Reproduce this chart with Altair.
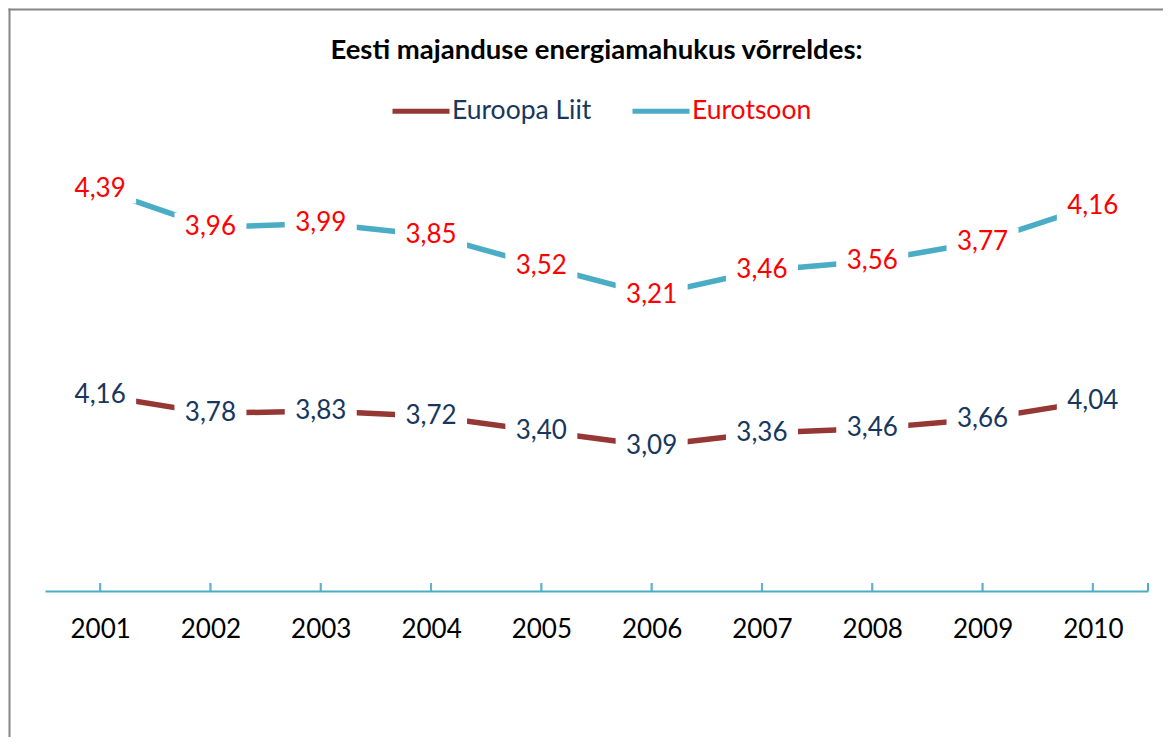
import altair as alt
import pandas as pd

years = [2001, 2002, 2003, 2004, 2005, 2006, 2007, 2008, 2009, 2010]
euroopa_liit = [4.16, 3.78, 3.83, 3.72, 3.40, 3.09, 3.36, 3.46, 3.66, 4.04]
eurotsoon = [4.39, 3.96, 3.99, 3.85, 3.52, 3.21, 3.46, 3.56, 3.77, 4.16]
series_names = ["Euroopa Liit", "Eurotsoon"]
title_text = "Eesti majanduse energiamahukus võrreldes:"

rows = []
for i, yr in enumerate(years):
    rows.append({"aasta": str(yr), "seeria": series_names[0], "jrk": 0, "vaartus": euroopa_liit[i]})
    rows.append({"aasta": str(yr), "seeria": series_names[1], "jrk": 1, "vaartus": eurotsoon[i]})
df = pd.DataFrame(rows)

W, H = 1103, 470
PAD_L, PAD_T, PAD_R, PAD_B = 37, 113, 15, 146
AXIS_COLOR = "#4BACC6"
FONT = "Lato"
FS = 26

base = alt.Chart(df).transform_stack(
    stack="vaartus", groupby=["aasta"], as_=["y0", "y1"], sort=[alt.SortField("jrk")]
).transform_calculate(
    silt="replace(format(datum.vaartus, '.2f'), '.', ',')"
)

x_enc = alt.X(
    "aasta:O",
    scale=alt.Scale(type="point", padding=0.5),
    axis=alt.Axis(
        title=None, labelAngle=0, domainColor=AXIS_COLOR, domainWidth=2, ticks=False,
        labelFont=FONT, labelFontSize=FS, labelColor="black", labelPadding=25,
    ),
)
y_enc = alt.Y("y1:Q", scale=alt.Scale(domain=[0, 10]), axis=None)

lines = base.mark_line(strokeWidth=5.5, strokeCap="round", strokeJoin="round").encode(
    x=x_enc,
    y=y_enc,
    color=alt.Color(
        "seeria:N",
        scale=alt.Scale(domain=series_names, range=["#953735", "#4BACC6"]),
        legend=alt.Legend(
            title=None, orient="none", legendX=345, legendY=-41, direction="horizontal",
            symbolType="stroke", symbolSize=3249, symbolStrokeWidth=5,
            labelFont=FONT, labelFontSize=26.5, labelOffset=0, columnPadding=30, labelLimit=0,
            labelColor={"expr": "datum.label == 'Euroopa Liit' ? '#17375E' : '#FF0000'"},
        ),
    ),
)

boxes = base.mark_point(
    shape="M-1,-0.4H1V0.4H-1Z", filled=True, color="white", opacity=1, size=5184, strokeWidth=0
).encode(x=x_enc, y=y_enc)

labels = base.mark_text(font=FONT, fontSize=FS, baseline="middle", align="center").encode(
    x=x_enc,
    y=y_enc,
    text="silt:N",
    color=alt.condition("datum.seeria == 'Euroopa Liit'", alt.value("#17375E"), alt.value("#FF0000")),
)

ticks = base.mark_tick(color=AXIS_COLOR, thickness=2, size=8, orient="vertical").encode(
    x=x_enc, y=alt.value(H - 4)
)

one = alt.Chart(pd.DataFrame({"k": [0]}))
end_tick = one.mark_rule(color=AXIS_COLOR, strokeWidth=2).encode(
    x=alt.value(W), y=alt.value(H - 8), y2=alt.value(H)
)
frame_left = one.mark_rule(color="#868686", strokeWidth=2).encode(
    x=alt.value(-35.5), y=alt.value(-112.5), y2=alt.value(H + PAD_B)
)
frame_top = one.mark_rule(color="#868686", strokeWidth=2).encode(
    x=alt.value(-36.5), x2=alt.value(W + PAD_R), y=alt.value(-111.5)
)

chart = alt.layer(frame_left, frame_top, lines, boxes, labels, ticks, end_tick).properties(
    width=W,
    height=H,
    autosize="none",
    background="white",
    padding={"left": PAD_L, "top": PAD_T, "right": PAD_R, "bottom": PAD_B},
    title=alt.TitleParams(
        title_text, font=FONT, fontSize=27.5, fontWeight="bold", color="black",
        anchor="middle", frame="group", offset=0, dy=57,
    ),
).configure_view(strokeWidth=0, strokeOpacity=0)

chart.save("out.html", embed_options={"renderer": "svg", "actions": False})
